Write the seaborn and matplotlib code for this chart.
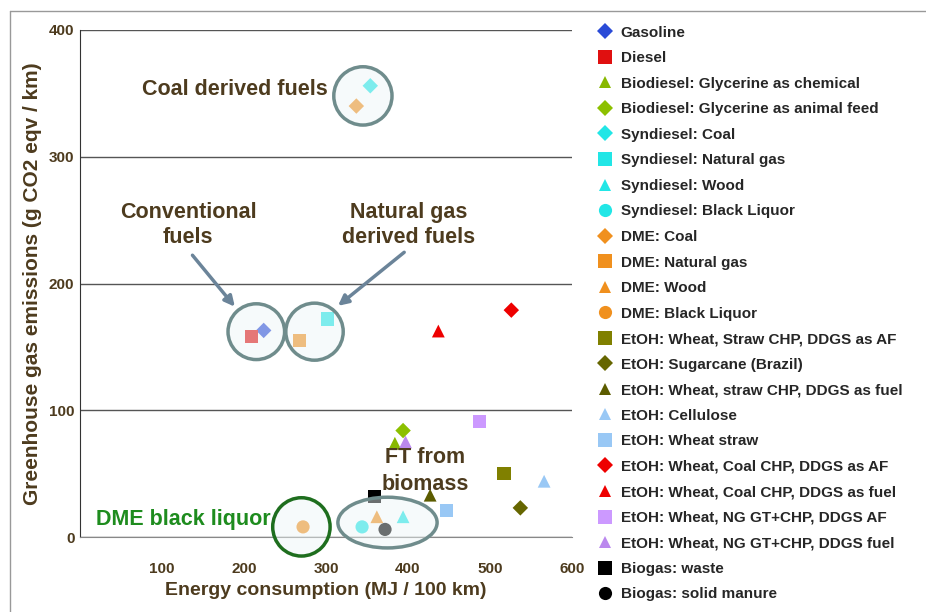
import matplotlib

matplotlib.use("Agg")
import matplotlib.pyplot as plt
from matplotlib.lines import Line2D
from matplotlib.patches import Ellipse
import pandas as pd
import seaborn as sns

# data
fuels = [
    "Gasoline",
    "Diesel",
    "Biodiesel: Glycerine as chemical",
    "Biodiesel: Glycerine as animal feed",
    "Syndiesel: Coal",
    "Syndiesel: Natural gas",
    "Syndiesel: Wood",
    "Syndiesel: Black Liquor",
    "DME: Coal",
    "DME: Natural gas",
    "DME: Wood",
    "DME: Black Liquor",
    "EtOH: Wheat, Straw CHP, DDGS as AF",
    "EtOH: Sugarcane (Brazil)",
    "EtOH: Wheat, straw CHP, DDGS as fuel",
    "EtOH: Cellulose",
    "EtOH: Wheat straw",
    "EtOH: Wheat, Coal CHP, DDGS as AF",
    "EtOH: Wheat, Coal CHP, DDGS as fuel",
    "EtOH: Wheat, NG GT+CHP, DDGS AF",
    "EtOH: Wheat, NG GT+CHP, DDGS fuel",
    "Biogas: waste",
    "Biogas: solid manure",
]
energy = [224, 209, 384, 394, 354, 302, 394, 344, 337, 268, 362, 272,
          517, 537, 427, 566, 447, 526, 437, 487, 397, 359, 372]
ghg = [163, 158, 74, 84, 356, 172, 16, 8, 340, 155, 16, 8,
       50, 23, 33, 44, 21, 179, 162.5, 91, 75, 32, 6]
colors = ["#2a4bd7", "#e01010", "#88b800", "#8cc000", "#22e6e6", "#22e6e6",
          "#22e6e6", "#22e6e6", "#f0901e", "#f0901e", "#f0901e", "#f0901e",
          "#808000", "#666600", "#5c5c00", "#99c8f5", "#99c8f5", "#ee0000",
          "#ee0000", "#cc99ff", "#bb88ee", "#000000", "#000000"]
markers = ["D", "s", "^", "D", "D", "s", "^", "o", "D", "s", "^", "o",
           "s", "D", "^", "^", "s", "D", "^", "s", "^", "s", "o"]

brown = "#4d3b1e"
df = pd.DataFrame({"fuel": fuels, "energy": energy, "ghg": ghg})
size_by_marker = {"D": 62, "s": 90, "^": 85, "o": 90}

sns.set_style("white")
plt.rcParams["font.family"] = ["Liberation Sans", "DejaVu Sans"]
plt.rcParams["font.weight"] = "bold"

fig = plt.figure(figsize=(9.26, 6.12), dpi=100)
ax = fig.add_axes([0.0864, 0.1225, 0.5313, 0.8285])

sns.scatterplot(
    data=df, x="energy", y="ghg",
    hue="fuel", style="fuel", size="fuel",
    hue_order=fuels, style_order=fuels,
    palette=dict(zip(fuels, colors)),
    markers=dict(zip(fuels, markers)),
    sizes={f: size_by_marker[m] for f, m in zip(fuels, markers)},
    linewidth=0, legend="full", ax=ax, zorder=3,
)

ax.set_xlim(0, 600)
ax.set_ylim(0, 400)
ax.set_xticks([100, 200, 300, 400, 500, 600])
ax.set_yticks([0, 100, 200, 300, 400])
ax.yaxis.grid(True, color="#555555", lw=1)
ax.xaxis.grid(False)
for side in ["top", "right"]:
    ax.spines[side].set_visible(False)
ax.spines["left"].set_color("#333333")
ax.spines["bottom"].set_color("#888888")
ax.tick_params(axis="x", length=6, color="#888888", labelsize=11, labelcolor=brown, pad=12)
ax.tick_params(axis="y", length=3, color="#555555", labelsize=11, labelcolor=brown, pad=1)
ax.set_xlabel("Energy consumption (MJ / 100 km)", fontsize=14, fontweight="bold",
              color=brown, labelpad=4)
ax.set_ylabel("Greenhouse gas emissions (g CO2 eqv / km)", fontsize=15,
              fontweight="bold", color=brown, labelpad=5)

# group outlines
face = (0.93, 0.96, 0.97, 0.45)
groups = [
    (345, 348, 71, 46, "#6f8c8c"),
    (215, 162, 69, 44, "#6f8c8c"),
    (286, 162, 70, 45, "#6f8c8c"),
    (270, 8, 70, 46, "#1e6e1e"),
    (375, 11.4, 121, 40, "#6f8c8c"),
]
for cx, cy, w, h, ec in groups:
    ax.add_patch(Ellipse((cx, cy), w, h, facecolor=face, edgecolor=ec,
                         lw=2.5, zorder=4, clip_on=False))

txt = dict(color=brown, fontsize=15.5, ha="center", va="center", zorder=5)
ax.text(189, 353, "Coal derived fuels", **txt)
ax.text(132, 246, "Conventional\nfuels", linespacing=1.25, **txt)
ax.text(401, 246, "Natural gas\nderived fuels", linespacing=1.25, **txt)
ax.text(421, 52, "FT from\nbiomass", linespacing=1.35, **txt)
ax.text(126, 14, "DME black liquor", color="#1e8c1e", fontsize=15.5,
        ha="center", va="center", zorder=5)

arrow = dict(arrowstyle="-|>,head_length=0.6,head_width=0.3", color="#6b8499", lw=2.5)
ax.annotate("", xy=(191, 180), xytext=(135, 224), arrowprops=arrow, zorder=5)
ax.annotate("", xy=(312, 181), xytext=(398, 226), arrowprops=arrow, zorder=5)

handles, labels = ax.get_legend_handles_labels()
ax.legend(handles, labels, loc="upper left", bbox_to_anchor=(0.645, 0.958),
          bbox_transform=fig.transFigure, frameon=False, fontsize=11,
          handlelength=1.0, handletextpad=0.54, labelspacing=0.755,
          borderpad=0, borderaxespad=0)

# slide frame
fig.add_artist(Line2D([10 / 926, 10 / 926], [0, 1 - 11 / 612], color="#999999", lw=1))
fig.add_artist(Line2D([10 / 926, 1], [1 - 11 / 612, 1 - 11 / 612], color="#999999", lw=1))

fig.savefig("out.png", dpi=100)
